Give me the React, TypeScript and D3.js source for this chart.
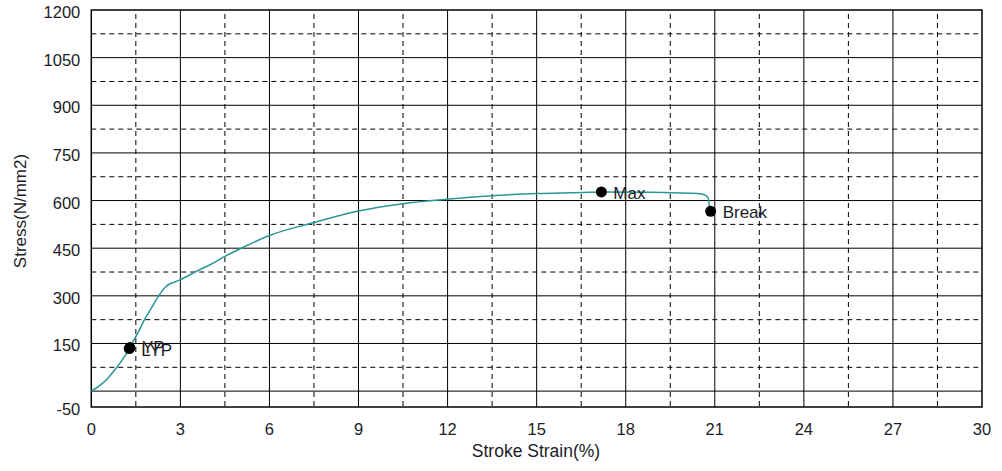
import * as d3 from "d3";
import React, { useEffect, useRef } from "react";

// curve readings (strain %, stress N/mm2)
const strain = [0, 0.29, 0.55, 0.86, 1.1, 1.3, 1.55, 1.81, 2.05, 2.29, 2.5, 2.65, 2.8, 2.93, 3.2, 3.49, 4.0, 4.5, 5.12, 6.0, 7.47, 9.0, 10.5, 11.97, 13.48, 15.0, 16.51, 17.18, 18.7, 20.38, 20.6, 20.77, 20.83];
const stress = [0, 18, 40, 75, 106, 138, 180, 228, 266, 303, 328, 338, 343, 348, 360, 375, 398, 424, 453, 490, 530, 567, 590, 604, 615, 622, 625, 627, 626, 622, 620, 610, 570];

const markNames = ["YP", "LYP", "Max", "Break"];
const markStrain = [1.3, 1.28, 17.18, 20.86];
const markStress = [137, 134, 627, 566];
const markLabelDy = [5, 7, 7, 7];

const xTicks = [0, 3, 6, 9, 12, 15, 18, 21, 24, 27, 30];
const yTicks = [-50, 150, 300, 450, 600, 750, 900, 1050, 1200];
const ySolid = [0, 150, 300, 450, 600, 750, 900, 1050];
const yDashed = [75, 225, 375, 525, 675, 825, 975, 1125];
const xDashed = [1.5, 4.5, 7.5, 10.5, 13.5, 16.5, 19.5, 22.5, 25.5, 28.5];

const W = 1002;
const H = 471;
const left = 91.3;
const right = 982;
const top = 10;
const bottom = 407;

function App() {
  const svgRef = useRef(null);

  useEffect(() => {
    const svg = d3.select(svgRef.current);
    svg.selectAll("*").remove();

    const x = d3.scaleLinear().domain([0, 30]).range([left, right]);
    const y = d3.scaleLinear().domain([-50, 1200]).range([bottom, top]);
    const font = "Arial, 'Liberation Sans', sans-serif";
    const textColor = "#1c1c28";

    // grid
    const grid = svg.append("g");
    grid
      .selectAll(".hs")
      .data(ySolid)
      .join("line")
      .attr("x1", left)
      .attr("x2", right)
      .attr("y1", (d) => y(d))
      .attr("y2", (d) => y(d))
      .attr("stroke", "#000")
      .attr("stroke-width", 1);
    grid
      .selectAll(".vs")
      .data(xTicks.slice(1, -1))
      .join("line")
      .attr("x1", (d) => x(d))
      .attr("x2", (d) => x(d))
      .attr("y1", top)
      .attr("y2", bottom)
      .attr("stroke", "#000")
      .attr("stroke-width", 1);
    grid
      .selectAll(".hd")
      .data(yDashed)
      .join("line")
      .attr("class", "hd")
      .attr("x1", left)
      .attr("x2", right)
      .attr("y1", (d) => y(d))
      .attr("y2", (d) => y(d))
      .attr("stroke", "#000")
      .attr("stroke-width", 1)
      .attr("stroke-dasharray", "5,4");
    grid
      .selectAll(".vd")
      .data(xDashed)
      .join("line")
      .attr("class", "vd")
      .attr("x1", (d) => x(d))
      .attr("x2", (d) => x(d))
      .attr("y1", top)
      .attr("y2", bottom)
      .attr("stroke", "#000")
      .attr("stroke-width", 1)
      .attr("stroke-dasharray", "5,4")
      .attr("stroke-dashoffset", -4);

    // frame
    svg
      .append("rect")
      .attr("x", left)
      .attr("y", top)
      .attr("width", right - left)
      .attr("height", bottom - top)
      .attr("fill", "none")
      .attr("stroke", "#000")
      .attr("stroke-width", 1.5);

    // tick labels
    svg
      .append("g")
      .selectAll("text")
      .data(yTicks)
      .join("text")
      .attr("x", left - 11)
      .attr("y", (d) => y(d) + 8)
      .attr("text-anchor", "end")
      .attr("font-family", font)
      .attr("font-size", 16.5)
      .attr("fill", textColor)
      .text((d) => d);
    svg
      .append("g")
      .selectAll("text")
      .data(xTicks)
      .join("text")
      .attr("x", (d) => x(d))
      .attr("y", 435)
      .attr("text-anchor", "middle")
      .attr("font-family", font)
      .attr("font-size", 16.5)
      .attr("fill", textColor)
      .text((d) => d);

    // axis titles
    svg
      .append("text")
      .attr("x", 536)
      .attr("y", 457)
      .attr("text-anchor", "middle")
      .attr("font-family", font)
      .attr("font-size", 17.5)
      .attr("fill", textColor)
      .text("Stroke Strain(%)");
    svg
      .append("text")
      .attr("transform", "translate(26,211) rotate(-90)")
      .attr("text-anchor", "middle")
      .attr("font-family", font)
      .attr("font-size", 17)
      .attr("fill", textColor)
      .text("Stress(N/mm2)");

    // curve
    const pts = strain.map((s, i) => [s, stress[i]]);
    const line = d3
      .line()
      .x((d) => x(d[0]))
      .y((d) => y(d[1]))
      .curve(d3.curveMonotoneX);
    svg
      .append("path")
      .attr("d", line(pts))
      .attr("fill", "none")
      .attr("stroke", "#2a9696")
      .attr("stroke-width", 1.5);

    // marked points (YP and LYP sit on top of each other, as in the source)
    const marks = markNames.map((n, i) => ({ n, s: markStrain[i], v: markStress[i], dy: markLabelDy[i] }));
    svg
      .append("g")
      .selectAll("circle")
      .data(marks)
      .join("circle")
      .attr("cx", (d) => x(d.s))
      .attr("cy", (d) => y(d.v))
      .attr("r", 5.5)
      .attr("fill", "#000");
    svg
      .append("g")
      .selectAll("text")
      .data(marks)
      .join("text")
      .attr("x", (d) => x(d.s) + 12)
      .attr("y", (d) => y(d.v) + d.dy)
      .attr("font-family", font)
      .attr("font-size", 17)
      .attr("fill", textColor)
      .text((d) => d.n);
  }, []);

  return (
    <svg
      ref={svgRef}
      width={W}
      height={H}
      style={{ position: "absolute", left: 0, top: 0, background: "#fff" }}
    />
  );
}

export default App;
